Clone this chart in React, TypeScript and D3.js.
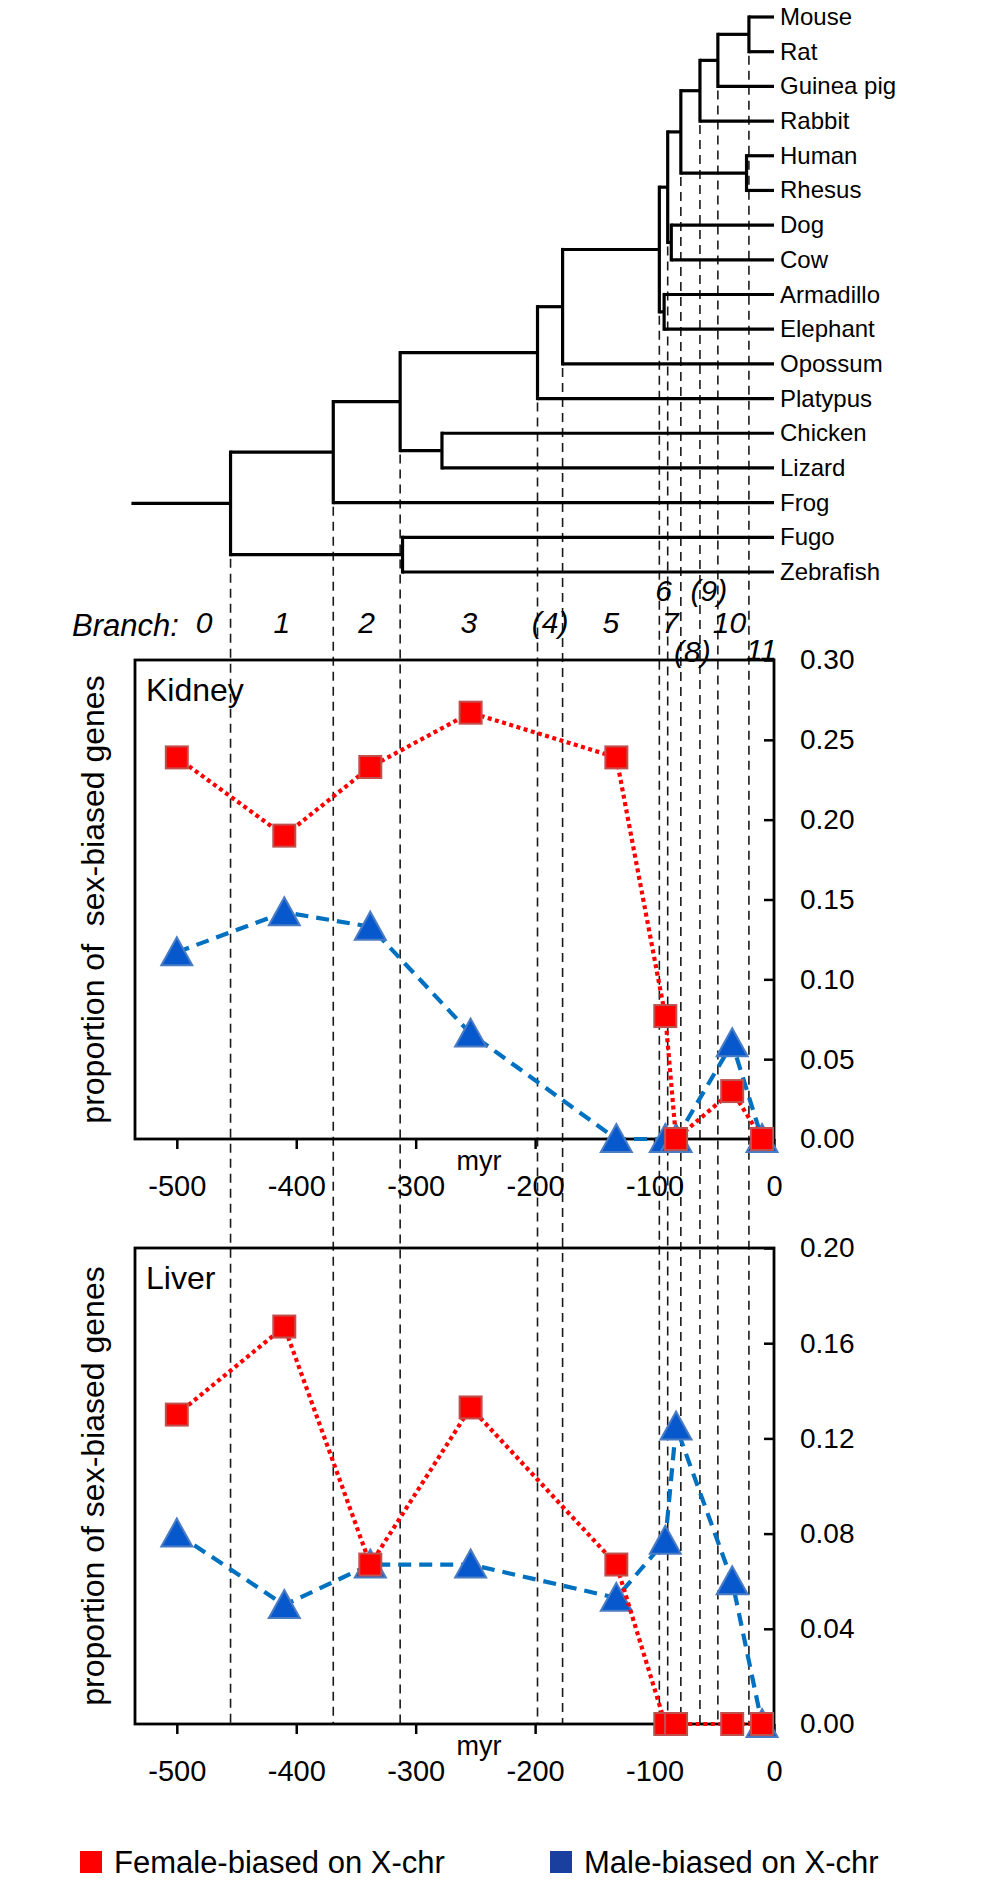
import { useEffect, useRef } from 'react';
import * as d3 from 'd3';

// leaves of the tree, top to bottom
const species = [
  'Mouse', 'Rat', 'Guinea pig', 'Rabbit', 'Human', 'Rhesus', 'Dog', 'Cow',
  'Armadillo', 'Elephant', 'Opossum', 'Platypus', 'Chicken', 'Lizard', 'Frog',
  'Fugo', 'Zebrafish',
];

// [node, parent, age in myr]
const treeEdges: [string, string, number][] = [
  ['Stem', '', -538],
  ['Osteichthyes', 'Stem', -455],
  ['Tetrapoda', 'Osteichthyes', -369],
  ['Teleostei', 'Osteichthyes', -311],
  ['Fugo', 'Teleostei', 0],
  ['Zebrafish', 'Teleostei', 0],
  ['Amniota', 'Tetrapoda', -313],
  ['Frog', 'Tetrapoda', 0],
  ['Mammalia', 'Amniota', -198],
  ['Sauropsida', 'Amniota', -278],
  ['Chicken', 'Sauropsida', 0],
  ['Lizard', 'Sauropsida', 0],
  ['Theria', 'Mammalia', -177],
  ['Platypus', 'Mammalia', 0],
  ['Eutheria', 'Theria', -96],
  ['Opossum', 'Theria', 0],
  ['Boreoeutheria', 'Eutheria', -89],
  ['Atlantogenata', 'Eutheria', -92],
  ['Armadillo', 'Atlantogenata', 0],
  ['Elephant', 'Atlantogenata', 0],
  ['Euarchontoglires', 'Boreoeutheria', -78],
  ['Laurasiatheria', 'Boreoeutheria', -86],
  ['Dog', 'Laurasiatheria', 0],
  ['Cow', 'Laurasiatheria', 0],
  ['Glires', 'Euarchontoglires', -62],
  ['Primates', 'Euarchontoglires', -23],
  ['Human', 'Primates', 0],
  ['Rhesus', 'Primates', 0],
  ['Rodentia', 'Glires', -47],
  ['Rabbit', 'Glires', 0],
  ['Murinae', 'Rodentia', -21],
  ['Guinea pig', 'Rodentia', 0],
  ['Mouse', 'Murinae', 0],
  ['Rat', 'Murinae', 0],
];

// nodes that bound the numbered branches (dashed lines)
const branchNodes = [
  'Osteichthyes', 'Tetrapoda', 'Amniota', 'Mammalia', 'Theria', 'Eutheria',
  'Boreoeutheria', 'Euarchontoglires', 'Glires', 'Rodentia', 'Murinae',
];
const branchLabels = ['0', '1', '2', '3', '(4)', '5', '6', '7', '(8)', '(9)', '10', '11'];

// one point per sampled branch
const pointMyr = [-500, -410, -338, -254, -132, -91, -82, -35, -10];
const kidneyFemale = [0.239, 0.19, 0.233, 0.267, 0.239, 0.077, 0, 0.03, 0];
const kidneyMale = [0.117, 0.142, 0.133, 0.066, 0, 0, 0, 0.06, 0];
const liverFemale = [0.13, 0.167, 0.067, 0.133, 0.067, 0, 0, 0, 0];
const liverMale = [0.08, 0.05, 0.067, 0.067, 0.053, 0.077, 0.125, 0.06, 0];

const xTicks = [-500, -400, -300, -200, -100, 0];
const kidneyTicks = [0, 0.05, 0.1, 0.15, 0.2, 0.25, 0.3];
const liverTicks = [0, 0.04, 0.08, 0.12, 0.16, 0.2];

const FONT = '"Liberation Sans", Arial, sans-serif';
const RED = '#ff0000';
const BLUE_LINE = '#0070c0';

export default function App() {
  const svgRef = useRef<SVGSVGElement>(null);

  useEffect(() => {
    if (!svgRef.current) return;
    const svg = d3.select(svgRef.current);
    svg.selectAll('*').remove();

    const x = d3.scaleLinear().domain([-535, 0]).range([135, 774]);
    const leafY = d3.scaleLinear().domain([0, species.length - 1]).range([17, 572]);

    // ---- tree
    const root = d3
      .stratify<[string, string, number]>()
      .id((d) => d[0])
      .parentId((d) => (d[1] === '' ? null : d[1]))(treeEdges);

    const yOf = new Map<string, number>();
    const lowOf = new Map<string, number>();
    root.eachAfter((n) => {
      if (!n.children) {
        const yy = leafY(species.indexOf(n.id!));
        yOf.set(n.id!, yy);
        lowOf.set(n.id!, yy);
      } else {
        const ys = n.children.map((c) => yOf.get(c.id!)!);
        yOf.set(n.id!, (d3.min(ys)! + d3.max(ys)!) / 2);
        lowOf.set(n.id!, d3.max(ys)!);
      }
    });
    const ageOf = (id: string) => root.find((n) => n.id === id)!.data[2];

    const liverBottom = 1724;

    // dashed guides
    svg
      .append('g')
      .selectAll('line')
      .data(branchNodes)
      .enter()
      .append('line')
      .attr('x1', (d) => x(ageOf(d)))
      .attr('x2', (d) => x(ageOf(d)))
      .attr('y1', (d) => lowOf.get(d)! + 4)
      .attr('y2', liverBottom)
      .attr('stroke', '#1a1a1a')
      .attr('stroke-width', 1.6)
      .attr('stroke-dasharray', '9 6');

    const tree = svg.append('g').attr('stroke', '#000').attr('stroke-width', 3.2).attr('fill', 'none');
    root.each((n) => {
      const t = n.data[2];
      const yy = yOf.get(n.id!)!;
      if (n.parent) {
        tree.append('path').attr('d', `M${x(n.parent.data[2])},${yy}H${x(t)}`);
      }
      if (n.children && n.children.length > 1) {
        const ys = n.children.map((c) => yOf.get(c.id!)!);
        tree
          .append('path')
          .attr('d', `M${x(t)},${d3.min(ys)}V${d3.max(ys)}`)
          .attr('stroke-linecap', 'square');
      }
    });

    svg
      .append('g')
      .selectAll('text')
      .data(species)
      .enter()
      .append('text')
      .attr('x', x(0) + 6)
      .attr('y', (d, i) => leafY(i) + 8)
      .attr('font-family', FONT)
      .attr('font-size', 24)
      .attr('fill', '#000')
      .text((d) => d);

    // ---- branch numbers (crowded ones stacked in three rows)
    const bounds = [treeEdges[0][2], ...branchNodes.map(ageOf), 0];
    const tierY: Record<string, number> = { '6': 601, '(9)': 601, '(8)': 662, '11': 660 };
    const shiftX: Record<string, number> = { '0': 23, '7': -4, '(8)': 2, '10': -4 };
    const bl = svg.append('g').attr('font-family', FONT).attr('font-size', 30).attr('font-style', 'italic');
    bl.append('text').attr('x', 72).attr('y', 636).attr('font-size', 31).text('Branch:');
    bl.selectAll('text.num')
      .data(branchLabels)
      .enter()
      .append('text')
      .attr('class', 'num')
      .attr('text-anchor', 'middle')
      .attr('x', (d, i) => x((bounds[i] + bounds[i + 1]) / 2) + (shiftX[d] || 0))
      .attr('y', (d) => tierY[d] || 633)
      .text((d) => d);

    // ---- panels
    const panels = [
      { title: 'Kidney', yTitle: 'proportion of  sex-biased genes', female: kidneyFemale, male: kidneyMale, max: 0.3, ticks: kidneyTicks, top: 660, bottom: 1139 },
      { title: 'Liver', yTitle: 'proportion of sex-biased genes', female: liverFemale, male: liverMale, max: 0.2, ticks: liverTicks, top: 1248, bottom: liverBottom },
    ];

    panels.forEach((p) => {
      const y = d3.scaleLinear().domain([0, p.max]).range([p.bottom, p.top]);
      const g = svg.append('g');

      g.append('rect')
        .attr('x', x.range()[0])
        .attr('y', p.top)
        .attr('width', x.range()[1] - x.range()[0])
        .attr('height', p.bottom - p.top)
        .attr('fill', 'none')
        .attr('stroke', '#000')
        .attr('stroke-width', 2.8);

      const xa = g
        .append('g')
        .attr('transform', `translate(0,${p.bottom})`)
        .call(d3.axisBottom(x).tickValues(xTicks).tickFormat((d) => String(d)).tickSize(10).tickPadding(26));
      xa.select('.domain').remove();
      xa.selectAll('line').attr('stroke-width', 2.5);
      xa.selectAll('text').attr('font-family', FONT).attr('font-size', 29).attr('fill', '#000');

      const ya = g
        .append('g')
        .attr('transform', `translate(${x.range()[1]},0)`)
        .call(d3.axisRight(y).tickValues(p.ticks).tickFormat(d3.format('.2f')).tickSize(-10).tickPadding(26));
      ya.select('.domain').remove();
      ya.selectAll('line').attr('stroke-width', 2.5);
      ya.selectAll('text').attr('font-family', FONT).attr('font-size', 28).attr('fill', '#000');

      g.append('text')
        .attr('x', 479)
        .attr('y', p.bottom + 31)
        .attr('text-anchor', 'middle')
        .attr('font-family', FONT)
        .attr('font-size', 27)
        .text('myr');

      g.append('text')
        .attr('x', 146)
        .attr('y', p.top + 41)
        .attr('font-family', FONT)
        .attr('font-size', 32)
        .text(p.title);

      g.append('text')
        .attr('transform', `translate(104,${(p.top + p.bottom) / 2}) rotate(-90)`)
        .attr('text-anchor', 'middle')
        .attr('font-family', FONT)
        .attr('font-size', 32)
        .style('white-space', 'pre')
        .text(p.yTitle);

      const line = d3
        .line<number>()
        .x((d, i) => x(pointMyr[i]))
        .y((d) => y(d));

      // male-biased: dashed blue with triangles
      g.append('path')
        .attr('d', line(p.male))
        .attr('fill', 'none')
        .attr('stroke', BLUE_LINE)
        .attr('stroke-width', 4.2)
        .attr('stroke-dasharray', '13 8');
      g.selectAll('path.tri')
        .data(p.male)
        .enter()
        .append('path')
        .attr('class', 'tri')
        .attr('d', (d, i) => {
          const cx = x(pointMyr[i]);
          const cy = y(d);
          return `M${cx},${cy - 15}L${cx + 15.5},${cy + 13}L${cx - 15.5},${cy + 13}Z`;
        })
        .attr('fill', '#0758cc')
        .attr('stroke', '#4a7cc4')
        .attr('stroke-width', 2);

      // female-biased: dotted red with squares
      g.append('path')
        .attr('d', line(p.female))
        .attr('fill', 'none')
        .attr('stroke', RED)
        .attr('stroke-width', 4.2)
        .attr('stroke-dasharray', '4 3.5');
      g.selectAll('rect.sq')
        .data(p.female)
        .enter()
        .append('rect')
        .attr('class', 'sq')
        .attr('x', (d, i) => x(pointMyr[i]) - 11)
        .attr('y', (d) => y(d) - 11)
        .attr('width', 22)
        .attr('height', 22)
        .attr('fill', RED)
        .attr('stroke', '#c0504d')
        .attr('stroke-width', 2);
    });

    // ---- legend
    const lg = svg.append('g').attr('font-family', FONT).attr('font-size', 31);
    lg.append('rect').attr('x', 80).attr('y', 1851).attr('width', 22).attr('height', 22).attr('fill', RED);
    lg.append('text').attr('x', 114).attr('y', 1873).text('Female-biased on X-chr');
    lg.append('rect').attr('x', 550).attr('y', 1851).attr('width', 22).attr('height', 22).attr('fill', '#1a3f9e');
    lg.append('text').attr('x', 584).attr('y', 1873).text('Male-biased on X-chr');

    return () => {
      svg.selectAll('*').remove();
    };
  }, []);

  return (
    <svg
      ref={svgRef}
      width={1008}
      height={1885}
      viewBox="0 0 1008 1885"
      style={{ position: 'absolute', left: 0, top: 0, background: '#fff' }}
    />
  );
}
